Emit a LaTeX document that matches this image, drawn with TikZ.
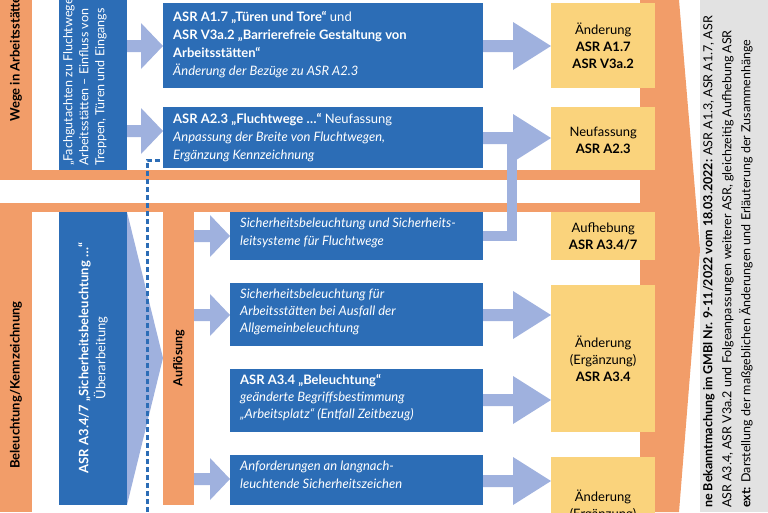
\documentclass[tikz,border=0pt]{standalone}
\usepackage{fontspec}
\setmainfont{Lato}
\definecolor{bl}{HTML}{2C6DB6}
\definecolor{lb}{HTML}{9FB1DE}
\definecolor{org}{HTML}{F29D69}
\definecolor{yel}{HTML}{FAD37C}
\definecolor{gr}{HTML}{E2E2E2}
\newcommand\barrow[6]{\fill[lb] (#1,#3-#4) -- (#2-#6,#3-#4) -- (#2-#6,#3-#5) -- (#2,#3) -- (#2-#6,#3+#5) -- (#2-#6,#3+#4) -- (#1,#3+#4) -- cycle;}
\begin{document}
\begin{tikzpicture}[x=1pt,y=-1pt,
  box/.style={fill=bl,text=white,anchor=north west,inner sep=0pt,align=left},
  ybox/.style={fill=yel,anchor=north west,inner sep=0pt,align=center},
  txt/.style={inner sep=0pt,font=\fontsize{13}{18}\selectfont}]
\useasboundingbox (0,0) rectangle (768,512);
\clip (0,0) rectangle (768,512);
% orange big arrow
\fill[org] (640,0) -- (679,0) -- (700,250) -- (679,512) -- (640,512) -- cycle;
% grey panel
\fill[gr] (700,0) rectangle (768,512);
% section frames
\fill[org] (0,0) rectangle (32,180);
\fill[org] (32,170) rectangle (655,180);
\fill[org] (0,203) rectangle (655,212);
\fill[org] (0,212) rectangle (32,512);
\node[txt,rotate=90,font=\bfseries\fontsize{13}{14}\selectfont,anchor=west] (s1) at (16,122) {Wege in Arbeitsstätten};
\node[txt,rotate=90,font=\bfseries\fontsize{13}{14}\selectfont] (s2) at (16,385) {Beleuchtung/Kennzeichnung};
% left vertical boxes
\fill[bl] (59,0) rectangle (127,170);
\node[txt,rotate=90,anchor=north west,align=left,text=white,font=\fontsize{12.5}{16}\selectfont] (fg) at (63,166) {„Fachgutachten zu Fluchtwegen\\Arbeitsstätten – Einfluss von\\Treppen, Türen und Eingangs};
\fill[lb] (127,212) -- (163,358) -- (127,505) -- cycle;
\fill[bl] (59,212) rectangle (127,505);
\node[txt,rotate=90,text=white,align=center,font=\fontsize{13}{17}\selectfont] (sb) at (93,358) {\textbf{ASR A3.4/7 „Sicherheitsbeleuchtung …“}\\Überarbeitung};
% Auflösung bar
\fill[org] (163,212) rectangle (194,505);
\node[txt,rotate=90,font=\bfseries\fontsize{12.5}{14}\selectfont] (af) at (179,358) {Auflösung};
% dotted line
\draw[bl,line width=3pt,dash pattern=on 5pt off 3pt] (147,512) -- (147,160) -- (163,160);
% arrows top-left
\barrow{127}{163}{46}{6}{23}{22}
\barrow{127}{163}{131}{6}{23}{22}
% top blue boxes
\node[box,minimum width=320pt,minimum height=85pt] (b1) at (163,3) {};
\node[txt,text=white,anchor=north west,align=left] at (173,11) {\textbf{ASR A1.7 „Türen und Tore“} und\\\textbf{ASR V3a.2 „Barrierefreie Gestaltung von}\\\textbf{Arbeitsstätten“}\\\textit{Änderung der Bezüge zu ASR A2.3}};
\node[box,minimum width=320pt,minimum height=61pt] (b2) at (163,107) {};
\node[txt,text=white,anchor=north west,align=left] at (173,113) {\textbf{ASR A2.3 „Fluchtwege …“} Neufassung\\\textit{Anpassung der Breite von Fluchtwegen,}\\\textit{Ergänzung Kennzeichnung}};
% L connector
\draw[lb,line width=10pt] (483,236) -- (512,236) -- (512,134);
\barrow{483}{551}{46}{6}{24}{38}
\barrow{483}{551}{138}{6}{24}{38}
% bottom left small arrows
\barrow{194}{230}{236}{6}{21}{20}
\barrow{194}{230}{315}{6}{21}{20}
\barrow{194}{230}{479}{6}{21}{20}
% bottom blue boxes
\node[box,minimum width=253pt,minimum height=48pt] (c1) at (230,212) {};
\node[txt,text=white,anchor=north west,align=left,font=\itshape\fontsize{13}{18}\selectfont] at (240,218) {Sicherheitsbeleuchtung und Sicherheits-\\leitsysteme für Fluchtwege};
\node[box,minimum width=253pt,minimum height=63pt] (c2) at (230,283) {};
\node[txt,text=white,anchor=north west,align=left,font=\itshape\fontsize{13}{17}\selectfont] at (240,289) {Sicherheitsbeleuchtung für\\Arbeitsstätten bei Ausfall der\\Allgemeinbeleuchtung};
\node[box,minimum width=253pt,minimum height=63pt] (c3) at (230,369) {};
\node[txt,text=white,anchor=north west,align=left,font=\fontsize{13}{17}\selectfont] at (240,374) {\textbf{ASR A3.4 „Beleuchtung“}\\\textit{geänderte Begriffsbestimmung}\\\textit{„Arbeitsplatz“ (Entfall Zeitbezug)}};
\node[box,minimum width=253pt,minimum height=50pt] (c4) at (230,455) {};
\node[txt,text=white,anchor=north west,align=left,font=\itshape\fontsize{13}{18}\selectfont] at (240,461) {Anforderungen an langnach-\\leuchtende Sicherheitszeichen};
\barrow{483}{551}{315}{6}{24}{38}
\barrow{483}{551}{400}{6}{24}{38}
\barrow{483}{551}{481}{6}{24}{38}
% yellow boxes
\node[ybox,minimum width=104pt,minimum height=85pt] (y1) at (551,3) {};
\node[txt,align=center,font=\fontsize{13}{17}\selectfont] at (y1.center) {Änderung\\\textbf{ASR A1.7}\\\textbf{ASR V3a.2}};
\node[ybox,minimum width=104pt,minimum height=63pt] (y2) at (551,107) {};
\node[txt,align=center,font=\fontsize{13}{17}\selectfont] at ([yshift=-2pt]y2.center) {Neufassung\\\textbf{ASR A2.3}};
\node[ybox,minimum width=104pt,minimum height=48pt] (y3) at (551,212) {};
\node[txt,align=center,font=\fontsize{13}{17}\selectfont] at (y3.center) {Aufhebung\\\textbf{ASR A3.4/7}};
\node[ybox,minimum width=104pt,minimum height=147pt] (y4) at (551,285) {};
\node[txt,align=center,font=\fontsize{13}{17}\selectfont] at (y4.center) {Änderung\\(Ergänzung)\\\textbf{ASR A3.4}};
\node[ybox,minimum width=104pt,minimum height=70pt] (y5) at (551,457) {};
\node[txt,align=center,anchor=north,font=\fontsize{13}{17}\selectfont] at (603,490) {Änderung\\(Ergänzung)};
% grey panel text
\node[txt,rotate=90,anchor=north west,align=left,font=\fontsize{12.5}{19}\selectfont] (gt) at (703,508) {\textbf{ne Bekanntmachung im GMBl Nr. 9-11/2022 vom 18.03.2022:} ASR A1.3, ASR A1.7, ASR\\ASR A3.4, ASR V3a.2 und Folgeanpassungen weiterer ASR, gleichzeitig Aufhebung ASR\\\textbf{ext:} Darstellung der maßgeblichen Änderungen und Erläuterung der Zusammenhänge};
\end{tikzpicture}
\end{document}
